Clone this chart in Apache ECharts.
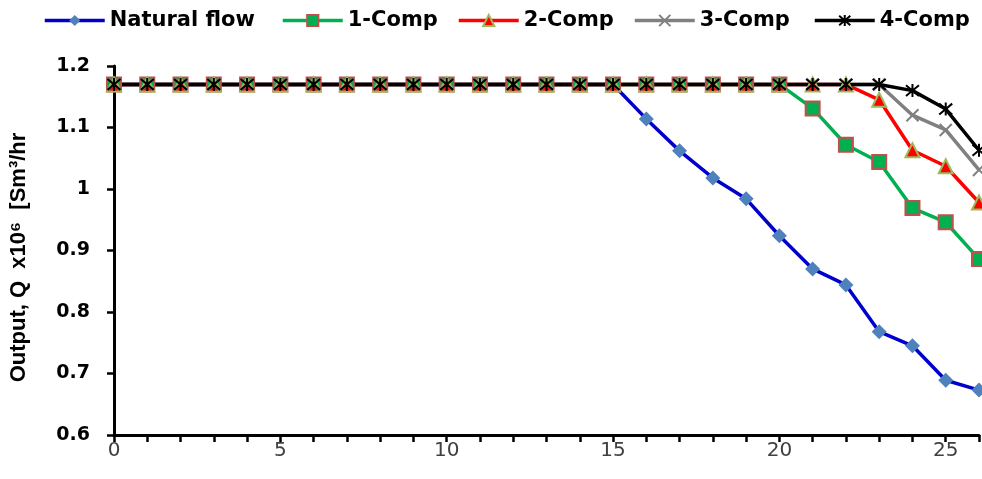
<!DOCTYPE html>
<html>
<head>
<meta charset="utf-8">
<script src="https://cdn.jsdelivr.net/npm/echarts@6/dist/echarts.min.js"></script>
<style>
  html, body { margin: 0; padding: 0; background: #fff; }
  #chart { width: 982px; height: 479px; }
</style>
</head>
<body>
<div id="chart"></div>
<script>
// 数据
var years = [0,1,2,3,4,5,6,7,8,9,10,11,12,13,14,15,16,17,18,19,20,21,22,23,24,25,26];
var naturalFlow = [1.17,1.17,1.17,1.17,1.17,1.17,1.17,1.17,1.17,1.17,1.17,1.17,1.17,1.17,1.17,1.17,1.114,1.062,1.018,0.984,0.924,0.870,0.844,0.768,0.745,0.689,0.673];
var comp1 = [1.17,1.17,1.17,1.17,1.17,1.17,1.17,1.17,1.17,1.17,1.17,1.17,1.17,1.17,1.17,1.17,1.17,1.17,1.17,1.17,1.17,1.131,1.072,1.044,0.969,0.946,0.886];
var comp2 = [1.17,1.17,1.17,1.17,1.17,1.17,1.17,1.17,1.17,1.17,1.17,1.17,1.17,1.17,1.17,1.17,1.17,1.17,1.17,1.17,1.17,1.17,1.17,1.145,1.063,1.037,0.978];
var comp3 = [1.17,1.17,1.17,1.17,1.17,1.17,1.17,1.17,1.17,1.17,1.17,1.17,1.17,1.17,1.17,1.17,1.17,1.17,1.17,1.17,1.17,1.17,1.17,1.17,1.120,1.096,1.031];
var comp4 = [1.17,1.17,1.17,1.17,1.17,1.17,1.17,1.17,1.17,1.17,1.17,1.17,1.17,1.17,1.17,1.17,1.17,1.17,1.17,1.17,1.17,1.17,1.17,1.17,1.160,1.130,1.063];
var seriesNames = ['Natural flow', '1-Comp', '2-Comp', '3-Comp', '4-Comp'];
var xTickLabels = ['0', '5', '10', '15', '20', '25'];

function pairs(ys) {
    var out = [];
    for (var i = 0; i < ys.length; i++) {
        out.push([years[i], ys[i]]);
    }
    return out;
}

var chart = echarts.init(document.getElementById('chart'));

var crossPath = 'path://M0,0L10,10M10,0L0,10';
var starPath = 'path://M0,0L10,10M10,0L0,10M5,-1L5,11';

// 图例位置（每项单独放）
var legendLeft = [38, 276, 452, 628, 808];
var legends = [];
for (var i = 0; i < seriesNames.length; i++) {
    legends.push({
        data: [seriesNames[i]],
        left: legendLeft[i],
        top: 5,
        itemWidth: 60,
        itemHeight: 14,
        itemGap: 6,
        lineStyle: { width: 3.5 },
        textStyle: {
            fontFamily: 'DejaVu Sans',
            fontWeight: 'bold',
            fontSize: 21,
            color: '#000'
        }
    });
}

var option = {
    animation: false,
    backgroundColor: '#fff',
    legend: legends,
    grid: {
        left: 114,
        right: 2,
        top: 66,
        bottom: 44
    },
    xAxis: {
        type: 'value',
        min: 0,
        max: 26,
        interval: 1,
        axisLine: { show: true, lineStyle: { color: '#000', width: 3 } },
        axisTick: { show: true, length: 7, lineStyle: { color: '#000', width: 2.5 } },
        splitLine: { show: false },
        axisLabel: {
            margin: 6,
            fontFamily: 'DejaVu Sans',
            fontSize: 20,
            color: '#404040',
            formatter: function (v) {
                var s = String(v);
                return xTickLabels.indexOf(s) >= 0 ? s : '';
            }
        }
    },
    yAxis: {
        type: 'value',
        min: 0.6,
        max: 1.2,
        interval: 0.1,
        name: 'Output, Q  x10\u2076  [Sm\u00b3/hr',
        nameLocation: 'middle',
        nameGap: 84,
        nameTextStyle: {
            fontFamily: 'Liberation Sans',
            fontWeight: 'bold',
            fontSize: 22,
            color: '#000',
            padding: [0, 14, 0, 0]
        },
        axisLine: { show: true, lineStyle: { color: '#000', width: 3 } },
        axisTick: { show: true, length: 7, lineStyle: { color: '#000', width: 2.5 } },
        splitLine: { show: false },
        axisLabel: {
            margin: 24,
            fontFamily: 'DejaVu Sans',
            fontWeight: 'bold',
            fontSize: 19,
            color: '#000',
            formatter: function (v) {
                return String(Math.round(v * 10) / 10);
            }
        }
    },
    series: [
        {
            name: 'Natural flow',
            type: 'line',
            data: pairs(naturalFlow),
            symbol: 'diamond',
            symbolSize: 15,
            lineStyle: { color: '#0000CC', width: 3.5 },
            itemStyle: { color: '#4F81BD' }
        },
        {
            name: '1-Comp',
            type: 'line',
            data: pairs(comp1),
            symbol: 'rect',
            symbolSize: 14,
            lineStyle: { color: '#00B050', width: 3.5 },
            itemStyle: { color: '#00B050', borderColor: '#C0504D', borderWidth: 2 }
        },
        {
            name: '2-Comp',
            type: 'line',
            data: pairs(comp2),
            symbol: 'triangle',
            symbolSize: 14,
            lineStyle: { color: '#FF0000', width: 3.5 },
            itemStyle: { color: '#FF0000', borderColor: '#9BBB59', borderWidth: 2 }
        },
        {
            name: '3-Comp',
            type: 'line',
            data: pairs(comp3),
            symbol: crossPath,
            symbolSize: 12,
            lineStyle: { color: '#808080', width: 3.5 },
            itemStyle: { color: '#808080', borderColor: '#808080', borderWidth: 2 }
        },
        {
            name: '4-Comp',
            type: 'line',
            data: pairs(comp4),
            symbol: starPath,
            symbolSize: 13,
            lineStyle: { color: '#000', width: 3.5 },
            itemStyle: { color: '#000', borderColor: '#000', borderWidth: 2 }
        }
    ]
};

chart.setOption(option);
</script>
</body>
</html>
